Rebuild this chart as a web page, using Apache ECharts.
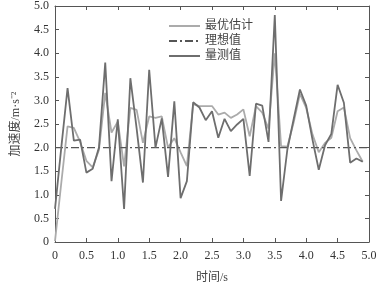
<!DOCTYPE html>
<html>
<head>
<meta charset="utf-8">
<script src="https://cdn.jsdelivr.net/npm/echarts@6/dist/echarts.min.js"></script>
<style>html,body{margin:0;padding:0;background:#fff;}#c{width:386px;height:289px;}</style>
</head>
<body>
<div id="c"></div>
<script>
var times = [0.0,0.1,0.2,0.3,0.4,0.5,0.6,0.7,0.8,0.9,1.0,1.1,1.2,1.3,1.4,1.5,1.6,1.7,1.8,1.9,2.0,2.1,2.2,2.3,2.4,2.5,2.6,2.7,2.8,2.9,3.0,3.1,3.2,3.3,3.4,3.5,3.6,3.7,3.8,3.9,4.0,4.1,4.2,4.3,4.4,4.5,4.6,4.7,4.8,4.9];
var estimate = [0.02,1.25,2.45,2.42,2.12,1.72,1.58,1.95,3.16,2.32,2.55,1.6,2.84,2.80,2.10,2.66,2.63,2.66,2.0,2.2,1.9,1.61,2.92,2.88,2.88,2.88,2.70,2.74,2.63,2.70,2.81,2.24,2.88,2.74,2.40,4.0,2.03,2.02,2.53,3.14,2.84,2.28,1.90,2.10,2.21,2.77,2.85,2.20,1.94,1.70];
var measured = [0.70,2.0,3.26,2.15,2.17,1.47,1.55,2.0,3.80,1.29,2.60,0.70,3.47,2.4,1.26,3.65,2.0,2.62,1.38,2.98,0.93,1.29,2.96,2.85,2.58,2.77,2.21,2.61,2.35,2.49,2.61,1.40,2.93,2.89,2.12,4.81,0.87,1.96,2.6,3.23,2.89,2.17,1.53,2.05,2.29,3.33,2.95,1.68,1.77,1.70];
var idealX = [0, 5];
var idealValue = 2.0;
var xTicks = [0,0.5,1.0,1.5,2.0,2.5,3.0,3.5,4.0,4.5,5.0];
var yTicks = [0,0.5,1.0,1.5,2.0,2.5,3.0,3.5,4.0,4.5,5.0];
var names = ['最优估计','理想值','量测值'];

function pairs(xs, ys){ return xs.map(function(x,i){ return [x, ys[i]]; }); }
function fmt(v){ return v === 0 ? '0' : v.toFixed(1); }

var chart = echarts.init(document.getElementById('c'), null, {renderer:'canvas'});
var axisColor = '#555';
var serif = "'Liberation Serif', serif";
var mixed = "'Liberation Serif', 'Noto Sans CJK SC', serif";
function baseAxis(extra){
  return Object.assign({
    axisLine:{show:true, onZero:false, lineStyle:{color:axisColor, width:1}},
    axisTick:{show:true, inside:true, length:4, lineStyle:{color:axisColor}},
    splitLine:{show:false}
  }, extra);
}
chart.setOption({
  animation:false,
  backgroundColor:'#fff',
  grid:{left:55, right:17, top:6, bottom:46},
  legend:{
    orient:'vertical', left:163, top:15, itemWidth:31, itemHeight:10, itemGap:3,
    itemStyle:{opacity:0},
    textStyle:{color:'#444', fontFamily:mixed, fontSize:12},
    data:names
  },
  xAxis:[
    baseAxis({type:'value', min:0, max:5, interval:0.5, position:'bottom',
      name:'时间/s', nameLocation:'middle', nameGap:30,
      nameTextStyle:{color:'#444', fontFamily:mixed, fontSize:12},
      axisLabel:{margin:8, color:'#333', fontFamily:serif, fontSize:12,
        formatter:function(v){ return xTicks.indexOf(v)>=0 ? fmt(v) : ''; }}}),
    baseAxis({type:'value', min:0, max:5, interval:0.5, position:'top', axisLabel:{show:false}})
  ],
  yAxis:[
    baseAxis({type:'value', min:0, max:5, interval:0.5, position:'left',
      name:'加速度/m·s⁻²', nameLocation:'middle', nameGap:33, nameRotate:90,
      nameTextStyle:{color:'#444', fontFamily:mixed, fontSize:12},
      axisLabel:{margin:6, color:'#333', fontFamily:serif, fontSize:12,
        formatter:function(v){ return yTicks.indexOf(v)>=0 ? fmt(v) : ''; }}}),
    baseAxis({type:'value', min:0, max:5, interval:0.5, position:'right', axisLabel:{show:false}})
  ],
  series:[
    {name:names[0], type:'line', symbol:'none', data:pairs(times, estimate),
      lineStyle:{color:'#ababab', width:1.8}, itemStyle:{color:'#ababab'}, z:2},
    {name:names[1], type:'line', symbol:'none', data:pairs(idealX, idealX.map(function(){ return idealValue; })),
      lineStyle:{color:'#555', width:1.4, type:[8,3,2,3]}, itemStyle:{color:'#555'}, z:3},
    {name:names[2], type:'line', symbol:'none', data:pairs(times, measured),
      lineStyle:{color:'#6e6e6e', width:1.8}, itemStyle:{color:'#6e6e6e'}, z:4}
  ]
});
</script>
</body>
</html>
